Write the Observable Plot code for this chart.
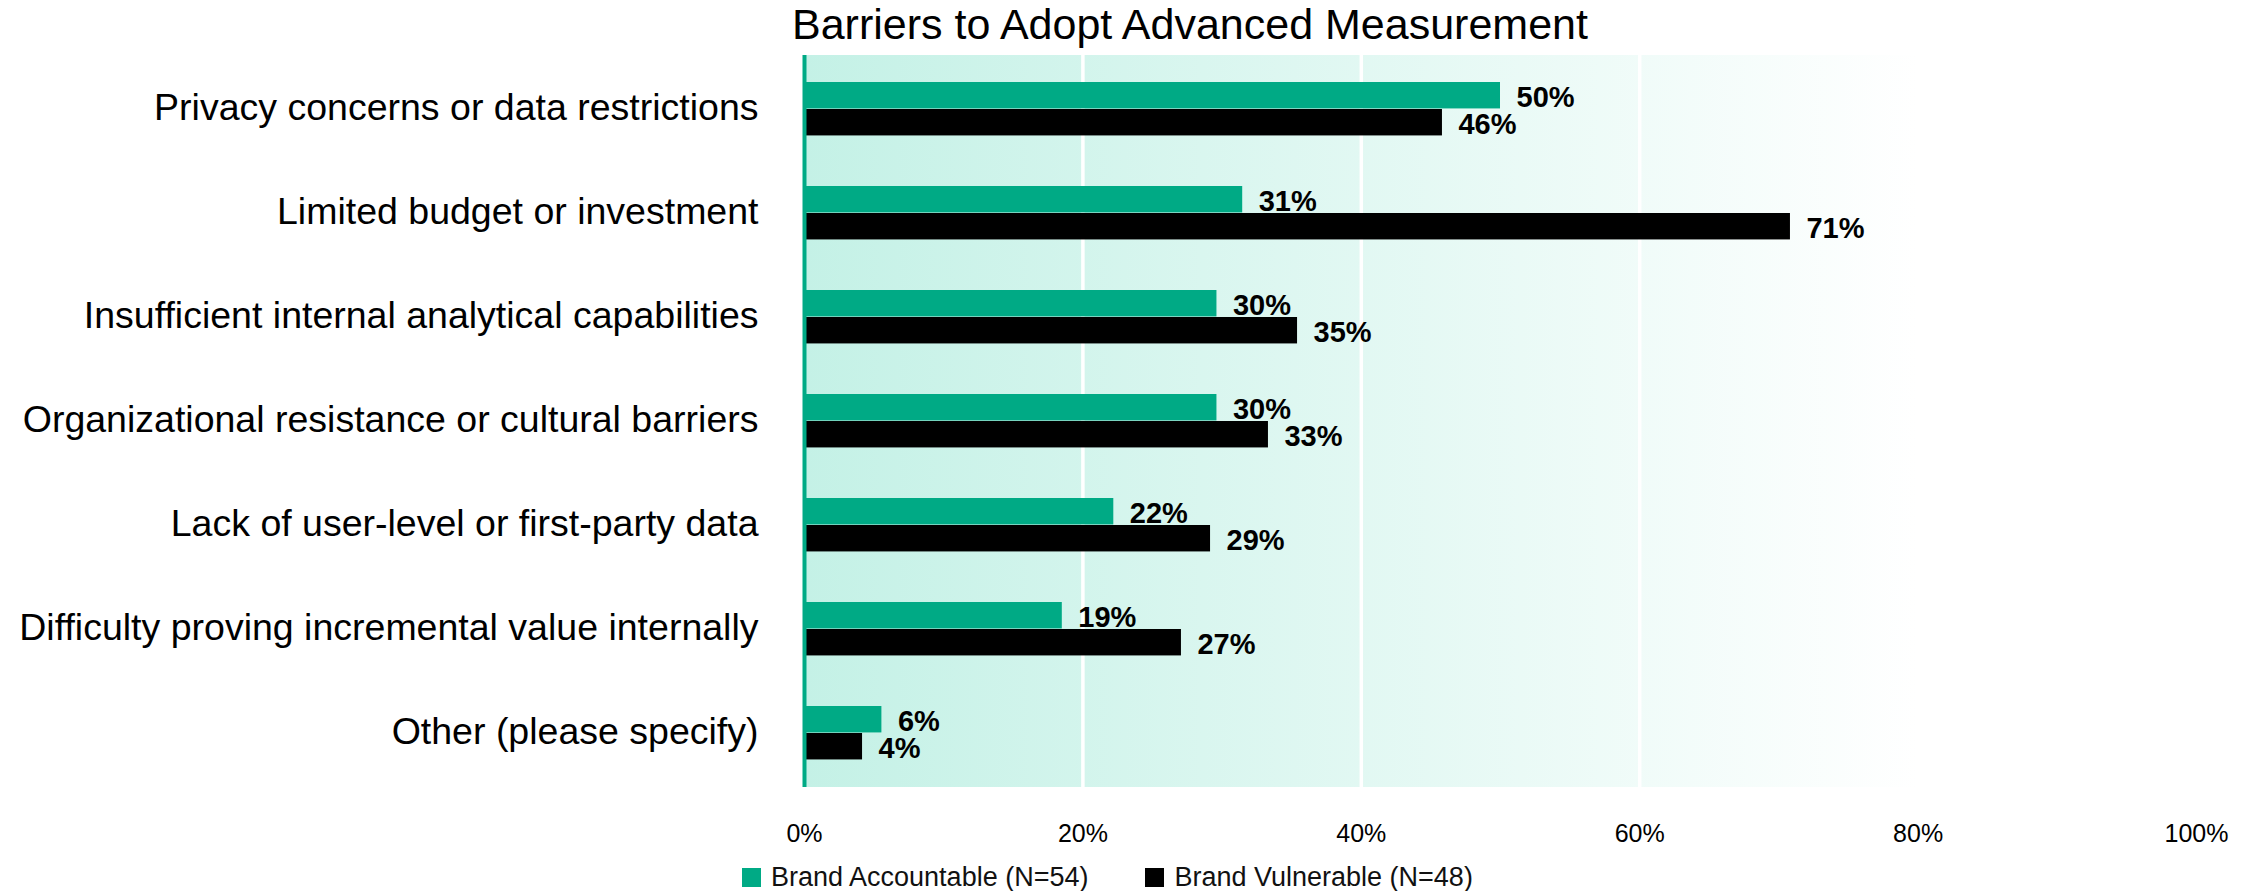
<!DOCTYPE html>
<html><head><meta charset="utf-8">
<script src="https://cdn.jsdelivr.net/npm/d3@7"></script>
<script src="https://cdn.jsdelivr.net/npm/@observablehq/plot@0.6"></script>
<style>
html,body{margin:0;padding:0;background:#fff;}
#wrap{position:relative;width:2252px;height:891px;overflow:hidden;font-family:"Liberation Sans",Arial,sans-serif;}
#title{position:absolute;left:792px;top:3px;font-size:43px;line-height:43px;color:#000;white-space:nowrap;}
#chart{position:absolute;left:0;top:50px;}
#legend{position:absolute;left:742px;top:862px;height:30px;display:flex;align-items:center;font-size:27px;color:#111;white-space:nowrap;}
.item{display:flex;align-items:center;}
.sw{width:19px;height:19px;display:inline-block;margin-right:10px;}
</style></head><body>
<div id="wrap">
<div id="title">Barriers to Adopt Advanced Measurement</div>
<div id="chart"></div>
<div id="legend"></div>
</div>
<script>
const categories = [
  "Privacy concerns or data restrictions",
  "Limited budget or investment",
  "Insufficient internal analytical capabilities",
  "Organizational resistance or cultural barriers",
  "Lack of user-level or first-party data",
  "Difficulty proving incremental value internally",
  "Other (please specify)"
];
const accountable = [50.00, 31.48, 29.63, 29.63, 22.22, 18.52, 5.56];
const vulnerable  = [45.83, 70.83, 35.42, 33.33, 29.17, 27.08, 4.17];
const seriesNames = ["Brand Accountable (N=54)", "Brand Vulnerable (N=48)"];
const seriesColors = ["#00aa85", "#000000"];
const xTicks = [0, 20, 40, 60, 80, 100];
const gridTicks = [20, 40, 60, 80];
const bgExtent = [{x1: 0, x2: 80}];

const rowsA = categories.map((c, i) => ({category: c, series: seriesNames[0], value: accountable[i]}));
const rowsB = categories.map((c, i) => ({category: c, series: seriesNames[1], value: vulnerable[i]}));

const W = 2252, H = 800, mT = 5, mB = 63, mL = 804, mR = 56;
const bw = (H - mT - mB) / categories.length;

const defs = () => {
  const d = d3.create("svg:defs");
  const g = d.append("linearGradient").attr("id", "bgGrad")
    .attr("x1", "0").attr("x2", "1").attr("y1", "0").attr("y2", "0");
  g.append("stop").attr("offset", "0").attr("stop-color", "rgb(196,241,230)");
  g.append("stop").attr("offset", "1").attr("stop-color", "#ffffff");
  return d.node();
};

const fmt = d => Math.round(d.value) + "%";

const chart = Plot.plot({
  width: W, height: H,
  marginTop: mT, marginBottom: mB, marginLeft: mL, marginRight: mR,
  style: {fontFamily: '"Liberation Sans", Arial, sans-serif', color: "#000", background: "transparent"},
  x: {domain: [0, 100], label: null},
  y: {domain: categories, padding: 0, label: null},
  marks: [
    defs,
    Plot.rect(bgExtent, {x1: "x1", x2: "x2", fill: "url(#bgGrad)"}),
    Plot.ruleX(gridTicks, {stroke: "#ffffff", strokeWidth: 3.5}),
    Plot.barX(rowsA, {x: "value", y: "category", fill: seriesColors[0], insetTop: 25, insetBottom: bw - 52}),
    Plot.barX(rowsB, {x: "value", y: "category", fill: seriesColors[1], insetTop: 52, insetBottom: bw - 79}),
    Plot.ruleX([0], {stroke: seriesColors[0], strokeWidth: 4}),
    Plot.text(rowsA, {x: "value", y: "category", text: fmt, dx: 16, dy: 38.5 - bw / 2 + 2, textAnchor: "start", fontSize: 29, fontWeight: "bold", fill: "#000"}),
    Plot.text(rowsB, {x: "value", y: "category", text: fmt, dx: 16, dy: 65.5 - bw / 2 + 2, textAnchor: "start", fontSize: 29, fontWeight: "bold", fill: "#000"}),
    Plot.axisX(xTicks, {anchor: "bottom", tickSize: 0, tickPadding: 37, tickFormat: d => d + "%", fontSize: 25, label: null}),
    Plot.axisY({anchor: "left", tickSize: 0, tickPadding: 46, fontSize: 37.5, dy: -2, label: null})
  ]
});
document.getElementById("chart").appendChild(chart);

const legend = d3.select("#legend");
seriesNames.forEach((name, i) => {
  const it = legend.append("div").attr("class", "item").style("margin-right", i === 0 ? "57px" : "0");
  it.append("span").attr("class", "sw").style("background", seriesColors[i]);
  it.append("span").text(name);
});
</script>
</body></html>
